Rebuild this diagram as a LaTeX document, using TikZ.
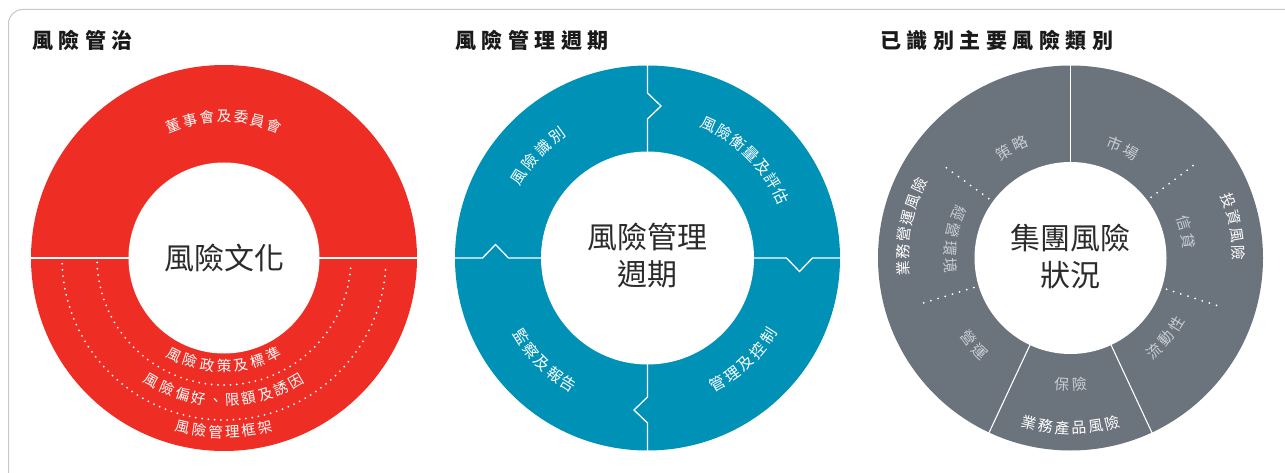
\documentclass[tikz,border=0pt]{standalone}
\usepackage{fontspec}
\newfontfamily\cjk{Noto Sans CJK TC}
\usetikzlibrary{calc}
\definecolor{ringred}{HTML}{EE2E24}
\definecolor{ringblue}{HTML}{0091B7}
\definecolor{ringgrey}{HTML}{6B737C}
\definecolor{lightlbl}{HTML}{C9CED3}
\definecolor{framegrey}{HTML}{C8C8C8}
\definecolor{centertxt}{HTML}{2B2B2B}
\definecolor{titletxt}{HTML}{1A1A1A}
\newcommand\tk{\kern5.5pt}
\newcommand\arctext[8]{%
  \foreach \ch [count=\ii] in {#8} {\xdef\arcn{\ii}}%
  \pgfmathsetmacro\stepdeg{#5/#3*180/pi}%
  \foreach \ch [count=\ii] in {#8} {%
    \pgfmathsetmacro\ang{#4 + #6*(\ii-(\arcn+1)/2)*\stepdeg}%
    \pgfmathsetmacro\rot{\ang + #6*90}%
    \node[#7, rotate=\rot] (#1-\ii) at ($(#2)+(\ang:#3)$) {\ch};
  }%
}
\tikzset{
  lbl/.style={inner sep=0pt, text height=0.85em, text depth=0.1em, text=white,
    font=\cjk\fontsize{14.5}{14.5}\selectfont},
  lblb/.style={lbl, font=\cjk\fontsize{15.5}{15.5}\selectfont},
  lblg/.style={lbl, text=lightlbl, font=\cjk\fontsize{15}{15}\selectfont},
  lblw/.style={lbl, font=\cjk\fontsize{15}{15}\selectfont},
  titletext/.style={anchor=west, inner sep=0pt, text=titletxt,
    font=\cjk\bfseries\fontsize{21}{21}\selectfont},
  centertext/.style={inner sep=0pt, align=center, text=centertxt,
    font=\cjk\fontsize{30}{37}\selectfont},
  sepline/.style={white, line width=1.3pt},
  dotline/.style={white, line width=2pt, line cap=round, dash pattern=on 0pt off 6.3pt},
  dotgrey/.style={white, line width=2pt, line cap=round, dash pattern=on 0pt off 7.5pt},
}
\begin{document}
\begin{tikzpicture}[x=1pt,y=1pt]
\useasboundingbox (0,0) rectangle (1285,472);
\draw[framegrey, line width=1pt, rounded corners=14pt] (8.5,-20) -- (8.5,462.5) -- (1300,462.5);

% titles
\node[titletext] (t1) at (32,432) {風\tk 險\tk 管\tk 治};
\node[titletext] (t2) at (455,432) {風\tk 險\tk 管\tk 理\tk 週\tk 期};
\node[titletext] (t3) at (880,432) {已\tk 識\tk 別\tk 主\tk 要\tk 風\tk 險\tk 類\tk 別};

% ---------- red ring ----------
\coordinate (rc) at (224,214);
\fill[ringred] (rc) circle (193);
\fill[white] (rc) circle (95.5);
\draw[sepline] ($(rc)+(180:193.5)$) -- ($(rc)+(180:95)$);
\draw[sepline] ($(rc)+(0:95)$) -- ($(rc)+(0:193.5)$);
\draw[dotline] ($(rc)+(182:127)$) arc[start angle=182, end angle=358, radius=127];
\draw[dotline] ($(rc)+(182:162)$) arc[start angle=182, end angle=358, radius=162];
\node[centertext] (rt) at (rc) {風險文化};
\arctext{rA}{rc}{140}{90}{17}{-1}{lbl}{董,事,會,及,委,員,會}
\arctext{rB}{rc}{110}{270}{17.3}{1}{lbl}{風,險,政,策,及,標,準}
\arctext{rC}{rc}{144}{270}{17}{1}{lbl}{風,險,偏,好,、,限,額,及,誘,因}
\arctext{rD}{rc}{176}{270}{16.8}{1}{lbl}{風,險,管,理,框,架}

% ---------- blue ring ----------
\coordinate (bc) at (647.5,214);
\fill[ringblue] (bc) circle (192.5);
\fill[white] (bc) circle (106.5);
\foreach \r in {0,90,180,270}{
  \begin{scope}[shift={(bc)}, rotate=\r]
    \draw[sepline] (0,106) -- (0,139) -- (13.5,152) -- (0,165) -- (0,193);
  \end{scope}
}
\node[centertext] (bt) at ($(bc)+(0,2)$) {風險管理\\週期};
\arctext{bA}{bc}{150}{137}{18.5}{-1}{lblb}{風,險,識,別}
\arctext{bB}{bc}{145}{45}{17}{-1}{lblb}{風,險,衡,量,及,評,估}
\arctext{bC}{bc}{146}{-47}{18}{1}{lblb}{管,理,及,控,制}
\arctext{bD}{bc}{151}{225}{17}{1}{lblb}{監,察,及,報,告}

% ---------- grey ring ----------
\coordinate (gc) at (1070.5,214);
\fill[ringgrey] (gc) circle (192.5);
\fill[white] (gc) circle (96);
\foreach \a in {90,245,295}{
  \draw[sepline, line width=1.1pt] ($(gc)+(\a:95)$) -- ($(gc)+(\a:193)$);
}
\foreach \a in {144,197,37,-18}{
  \draw[dotgrey] ($(gc)+(\a:101)$) -- ($(gc)+(\a:155)$);
}
\node[centertext] (gt) at ($(gc)+(0,1)$) {集團風險\\狀況};
\arctext{gA}{gc}{123}{118}{18}{-1}{lblg}{策,略}
\arctext{gB}{gc}{120}{64.5}{18}{-1}{lblg}{市,場}
\arctext{gC}{gc}{117}{12.8}{18}{-1}{lblg}{信,貸}
\arctext{gD}{gc}{127}{-40}{18}{1}{lblg}{流,動,性}
\arctext{gE}{gc}{129}{270}{18}{1}{lblg}{保,險}
\arctext{gF}{gc}{132}{222}{18}{1}{lblg}{營,運}
\arctext{gG}{gc}{122}{171}{18}{1}{lblg}{經,營,環,境}
\arctext{gH}{gc}{166}{169}{17}{-1}{lblw}{業,務,營,運,風,險}
\arctext{gI}{gc}{166}{11}{17.5}{-1}{lblw}{投,資,風,險}
\arctext{gJ}{gc}{172}{270}{17}{1}{lblw}{業,務,產,品,風,險}
\end{tikzpicture}
\end{document}
